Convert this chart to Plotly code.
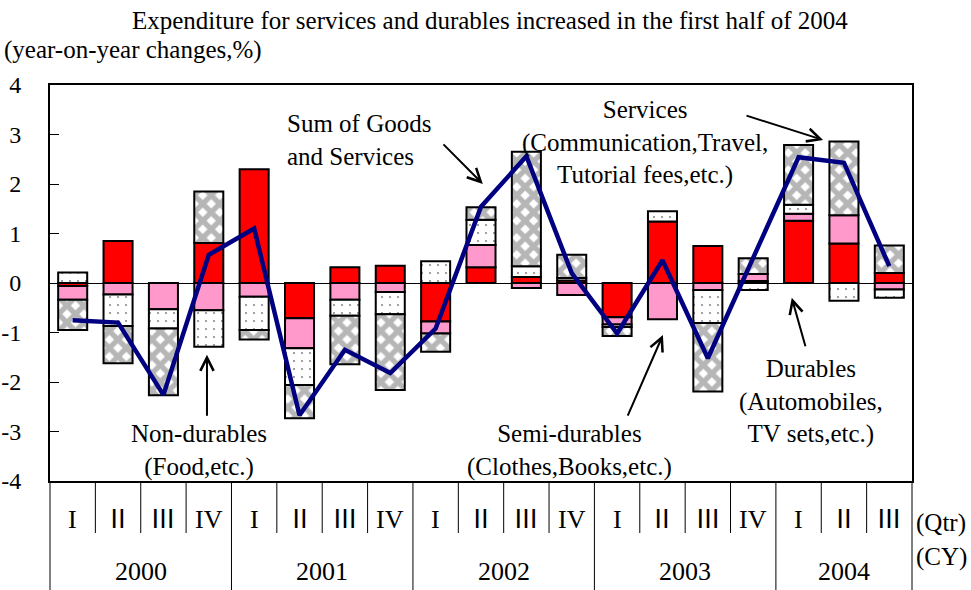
import plotly.graph_objects as go

years = ["2000", "2001", "2002", "2003", "2004"]
quarter_labels = ["I", "Ⅱ", "Ⅲ", "IV", "I", "Ⅱ", "Ⅲ", "IV", "I", "Ⅱ", "Ⅲ", "IV",
                  "I", "Ⅱ", "Ⅲ", "IV", "I", "Ⅱ", "Ⅲ"]
categories = list(range(19))

durables = [-0.06, 0.85, None, 0.81, 2.30, -0.71, 0.32, 0.35, -0.78, 0.32,
            0.12, 0.05, -0.69, 1.24, 0.75, 0.04, 1.26, 0.80, 0.20]
semi_durables = [-0.28, -0.23, -0.53, -0.55, -0.28, -0.61, -0.34, -0.18, -0.24, 0.45,
                 -0.10, -0.24, -0.15, -0.73, -0.14, 0.14, 0.14, 0.57, -0.13]
non_durables = [0.21, -0.64, -0.39, -0.74, -0.67, -0.74, -0.32, -0.45, 0.44, 0.51,
                0.22, 0.05, -0.05, 0.21, -0.67, -0.14, 0.18, -0.36, -0.17]
services = [-0.61, -0.75, -1.35, 1.04, -0.19, -0.67, -0.98, -1.53, -0.37, 0.25,
            2.31, 0.47, -0.18, None, -1.38, 0.32, 1.21, 1.49, 0.56]
total = [-0.75, -0.80, -2.26, 0.57, 1.10, -2.67, -1.35, -1.82, -0.92, 1.54,
         2.56, 0.20, -1.02, 0.46, -1.52, 0.50, 2.54, 2.43, 0.34]

SERIF = "Liberation Serif, Times New Roman, serif"
FS = 25
BW = 0.64
N = len(categories)

fig = go.Figure()
line_style = dict(color="black", width=2)
fig.add_bar(x=categories, y=durables, width=BW, marker=dict(color="#FF0000", line=line_style),
            showlegend=False, name="Durables")
fig.add_bar(x=categories, y=semi_durables, width=BW, marker=dict(color="#FF99CC", line=line_style),
            showlegend=False, name="Semi-durables")
fig.add_bar(x=categories, y=non_durables, width=BW,
            marker=dict(color="white", line=line_style,
                        pattern=dict(shape=".", fgcolor="black", bgcolor="white", size=8, solidity=0.05)),
            showlegend=False, name="Non-durables")
fig.add_bar(x=categories, y=services, width=BW,
            marker=dict(color="white", line=line_style,
                        pattern=dict(shape="x", fgcolor="#6e6e6e", bgcolor="white", size=12, solidity=0.7)),
            showlegend=False, name="Services")
fig.add_scatter(x=categories, y=total, mode="lines", line=dict(color="#000080", width=4.5),
                showlegend=False, name="Sum of Goods and Services")


def txt_font(extra="", size=FS):
    return dict(family=SERIF + extra, size=size, color="black")


annotations = []
annotations.append(dict(text="Expenditure for services and durables increased in the first half of 2004",
                        xref="paper", yref="paper", x=(490 - 50) / 862, y=(481 - 20) / 396,
                        xanchor="center", yanchor="middle", showarrow=False, font=txt_font()))
annotations.append(dict(text="(year-on-year changes,%)", xref="paper", yref="paper",
                        x=(2 - 50) / 862, y=(481 - 50) / 396, xanchor="left", yanchor="middle",
                        showarrow=False, font=txt_font()))

for i, q in enumerate(quarter_labels):
    annotations.append(dict(text=q, xref="x", yref="paper", x=categories[i], y=(481 - 519) / 396,
                            xanchor="center", yanchor="middle", showarrow=False,
                            font=txt_font(", Noto Sans CJK JP", 26)))
year_centers = [1.5, 5.5, 9.5, 13.5, 17]
for yr, c in zip(years, year_centers):
    annotations.append(dict(text=yr, xref="x", yref="paper", x=c, y=(481 - 571) / 396,
                            xanchor="center", yanchor="middle", showarrow=False, font=txt_font(size=26)))
annotations.append(dict(text="(Qtr)", xref="paper", yref="paper", x=(914 - 50) / 862, y=(481 - 523) / 396,
                        xanchor="left", yanchor="middle", showarrow=False, font=txt_font()))
annotations.append(dict(text="(CY)", xref="paper", yref="paper", x=(914 - 50) / 862, y=(481 - 557) / 396,
                        xanchor="left", yanchor="middle", showarrow=False, font=txt_font()))

labels = [
    ("Non-durables<br>(Food,etc.)", 2.78, -3.39, "center"),
    ("Sum of Goods<br>and Services", 4.68, 2.89, "left"),
    ("Services<br>(Communication,Travel,<br>Tutorial fees,etc.)", 12.61, 2.83, "center"),
    ("Semi-durables<br>(Clothes,Books,etc.)", 10.94, -3.39, "center"),
    ("Durables<br>(Automobiles,<br>TV sets,etc.)", 16.27, -2.40, "center"),
]
for txt, x, y, al in labels:
    annotations.append(dict(text=txt, x=x, y=y, xref="x", yref="y", showarrow=False,
                            xanchor=al, yanchor="middle", align=al, font=txt_font()))

arrows = [
    (2.96, -1.45, 2.96, -2.71),
    (9.04, 2.00, 8.14, 2.83),
    (16.54, 2.89, 14.82, 3.39),
    (13.01, -1.05, 12.22, -2.71),
    (15.85, -0.30, 16.16, -1.31),
]
for hx, hy, tx, ty in arrows:
    annotations.append(dict(text="", x=hx, y=hy, ax=tx, ay=ty, xref="x", yref="y",
                            axref="x", ayref="y", showarrow=True, arrowhead=5,
                            arrowsize=1.3, arrowwidth=2, arrowcolor="black"))

shapes = []
for k in range(N + 1):
    long = k % 4 == 0 or k == N
    shapes.append(dict(type="line", xref="paper", yref="paper", x0=k / N, x1=k / N,
                       y0=0, y1=(481 - 590) / 396 if long else (481 - 533) / 396,
                       line=dict(color="black", width=1)))

fig.update_layout(
    width=971, height=590,
    margin=dict(l=50, r=59, t=85, b=109, autoexpand=False),
    paper_bgcolor="white", plot_bgcolor="white",
    barmode="relative",
    annotations=annotations, shapes=shapes,
    xaxis=dict(range=[-0.5, 18.5], showgrid=False, zeroline=False, showticklabels=False,
               ticks="", showline=True, linecolor="black", linewidth=2, mirror=True, automargin=False),
    xaxis2=dict(range=[-0.5, 18.5], overlaying="x", anchor="free", position=0.5, side="bottom",
                showgrid=False, zeroline=False, showticklabels=False, showline=False, automargin=False,
                tickmode="array", tickvals=[k - 0.5 for k in range(N + 1)],
                ticks="inside", ticklen=6, tickcolor="black", tickwidth=1),
    yaxis=dict(range=[-4, 4], tickmode="array", tickvals=list(range(-4, 5)),
               ticktext=[str(v) for v in range(-4, 5)], automargin=False,
               showgrid=False, zeroline=True, zerolinecolor="black", zerolinewidth=1,
               ticks="inside", ticklen=9, tickcolor="black", tickwidth=1,
               showline=True, linecolor="black", linewidth=2, mirror=True,
               ticklabelstandoff=22,
               tickfont=dict(family=SERIF, size=24, color="black")),
)
fig.write_html("out.html", config={"displayModeBar": False},
               post_script="document.body.style.margin='0';document.body.style.padding='0';")
